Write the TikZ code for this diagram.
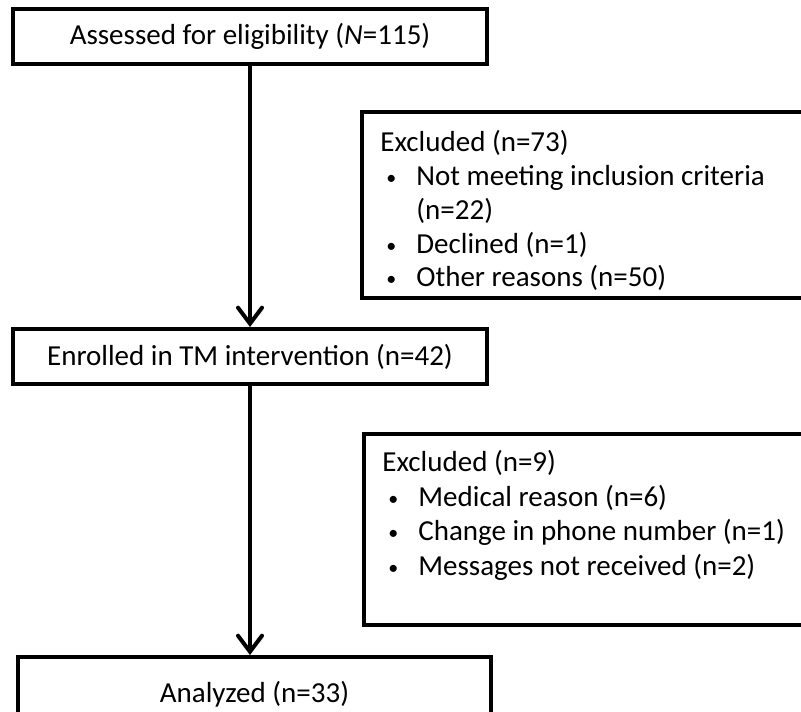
\documentclass[tikz,border=0pt]{standalone}
\usepackage{fontspec}
\setmainfont{Carlito}
\usetikzlibrary{arrows.meta}
\newcommand{\bul}{\makebox[3pt]{}\makebox[15pt][l]{\raisebox{0.5pt}{\fontsize{10}{10}\selectfont\textbullet}}}
\newcommand{\ind}{\makebox[18pt]{}}

\begin{document}
\begin{tikzpicture}[x=0.5pt,y=-0.5pt,
  box/.style={draw,line width=2pt,minimum width=#1},
  box/.default=237pt,
  lst/.style={anchor=north west,inner sep=0pt,align=left},
  flow/.style={line width=2pt,-{Straight Barb[length=8pt,width=12pt,line cap=round]}},
  every node/.style={font=\fontsize{14.5}{17.3}\selectfont}]
  \useasboundingbox (0,0) rectangle (801,711);

  \node (assess) [box,minimum height=27.5pt] at (250,36.5) {Assessed for eligibility (\textit{N}=115)};
  \node (enrol) [box,minimum height=27.5pt] at (250,356.5) {Enrolled in TM intervention (n=42)};
  \node (anlz) [box=236.5pt,minimum height=37pt] at (254.5,694) {Analyzed (n=33)};

  \node (excl1) [box=239pt,minimum height=93pt] at (601,205) {};
  \node (excl1txt) [lst,font=\fontsize{14.5}{16.9}\selectfont] at (380,130) {Excluded (n=73)\\
    \bul Not meeting inclusion criteria\\
    \ind (n=22)\\
    \bul Declined (n=1)\\
    \bul Other reasons (n=50)};

  \node (excl2) [box=238pt,minimum height=95.5pt] at (602,529.5) {};
  \node (excl2txt) [lst] at (382,450) {Excluded (n=9)\\
    \bul Medical reason (n=6)\\
    \bul Change in phone number (n=1)\\
    \bul Messages not received (n=2)};

  \draw [flow] (assess) -- (enrol);
  \draw [flow] (enrol.south) -- (enrol.south |- anlz.north);
\end{tikzpicture}
\end{document}
